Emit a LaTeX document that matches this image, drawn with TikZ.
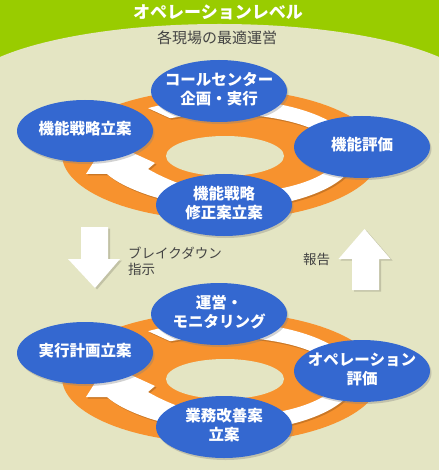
\documentclass[tikz,border=0pt]{standalone}
\usepackage{fontspec}
\setmainfont{Noto Sans CJK JP}
\usetikzlibrary{shapes.geometric,shadows}
\definecolor{bgGreen}{RGB}{153,204,0}
\definecolor{bgBeige}{RGB}{228,229,195}
\definecolor{ringOrange}{RGB}{247,146,46}
\definecolor{nbA}{RGB}{52,104,208}
\definecolor{nbB}{RGB}{44,92,194}
\definecolor{nbC}{RGB}{28,64,148}
\definecolor{txtGray}{RGB}{68,68,68}
\pgfdeclareradialshading{nodeshade}{\pgfpoint{0bp}{0bp}}{color(0bp)=(nbA); color(34bp)=(nbA); color(45bp)=(nbB); color(50bp)=(nbC)}
\newcommand\stagetext[1]{\makebox[0pt]{\begin{tabular}{@{}c@{}}#1\end{tabular}}}
\newcommand\ringband{%
  \fill[ringOrange] (221,377.5) ellipse [x radius=159pt, y radius=65.5pt];
  \fill[bgBeige] (225,379) ellipse [x radius=59pt, y radius=20pt];
  \fill[black, opacity=0.18, xshift=1.5pt, yshift=-1.5pt] plot[domain=236.5:450, samples=90] ({222+134*cos(\x)},{377+55*sin(\x)}) -- plot[domain=450:243.4, samples=90] ({222+116*cos(\x)},{377+40*sin(\x)}) -- cycle;
  \fill[white] plot[domain=236.5:450, samples=90] ({222+134*cos(\x)},{377+55*sin(\x)}) -- plot[domain=450:243.4, samples=90] ({222+116*cos(\x)},{377+40*sin(\x)}) -- cycle;
  \fill[black, opacity=0.18, xshift=1.5pt, yshift=-1.5pt] (215,431) .. controls (170,428) and (125,413) .. (107,397) -- (86,397) -- (107,364) -- (155,386) -- (148,392) .. controls (165,402) and (190,412) .. (215,416) -- cycle;
  \fill[white] (215,431) .. controls (170,428) and (125,413) .. (107,397) -- (86,397) -- (107,364) -- (155,386) -- (148,392) .. controls (165,402) and (190,412) .. (215,416) -- cycle;
}
\tikzset{
  stage/.style={shape=ellipse, minimum width=136pt, minimum height=62pt, inner sep=0pt, outer sep=0pt,
    shading=nodeshade, draw=none, drop shadow={opacity=0.35, shadow xshift=1.5pt, shadow yshift=-2pt},
    text=white, font=\fontsize{15.5}{18.5}\selectfont\bfseries},
  arrowshape/.style={fill=white},
  arrowshadow/.style={fill=black, opacity=0.15, xshift=2pt, yshift=-1.5pt},
  smalltext/.style={text=txtGray, font=\fontsize{13.5}{16}\selectfont, inner sep=0pt}
}
\begin{document}
\begin{tikzpicture}[x=1pt, y=-1pt]
\useasboundingbox (0,0) rectangle (439,470);
\clip (0,0) rectangle (439,470);
% background
\fill[bgGreen] (0,0) rectangle (439,470);
\fill[bgBeige] (219.5,95) ellipse [x radius=260pt, y radius=71pt];
\fill[bgBeige] (0,95) rectangle (439,470);
\node[text=white, font=\fontsize{17}{17}\selectfont\bfseries, inner sep=0pt] (title) at (218,12.5) {オペレーションレベル};
\node[text=txtGray, font=\fontsize{15}{15}\selectfont, inner sep=0pt] (subtitle) at (217,37.5) {各現場の最適運営};

% upper cycle
\begin{scope}[yshift=223pt]
  \ringband
\end{scope}
\node[stage] (c1) at (219,91) {\stagetext{コールセンター\\企画・実行}};
\node[stage] (s1) at (85,131) {\stagetext{機能戦略立案}};
\node[stage] (e1) at (362,147) {\stagetext{機能評価}};
\node[stage] (r1) at (224,205) {\stagetext{機能戦略\\修正案立案}};

% middle arrows
\fill[arrowshadow] (81,227) -- (108,227) -- (108,259) -- (120,259) -- (95,288) -- (68,259) -- (81,259) -- cycle;
\fill[arrowshape] (81,227) -- (108,227) -- (108,259) -- (120,259) -- (95,288) -- (68,259) -- (81,259) -- cycle;
\fill[arrowshadow] (364.5,229) -- (390.5,259) -- (379,259) -- (379,290) -- (352,290) -- (352,259) -- (338.5,259) -- cycle;
\fill[arrowshape] (364.5,229) -- (390.5,259) -- (379,259) -- (379,290) -- (352,290) -- (352,259) -- (338.5,259) -- cycle;
\node[smalltext, anchor=west, align=left] (bd) at (128,261) {ブレイクダウン\\指示};
\node[smalltext] (rp) at (316.5,259) {報告};

% lower cycle
\ringband
\node[stage] (c2) at (219,314) {\stagetext{運営・\\モニタリング}};
\node[stage] (s2) at (85,353) {\stagetext{実行計画立案}};
\node[stage] (e2) at (362,371) {\stagetext{オペレーション\\評価}};
\node[stage] (r2) at (224,427) {\stagetext{業務改善案\\立案}};
\end{tikzpicture}
\end{document}
